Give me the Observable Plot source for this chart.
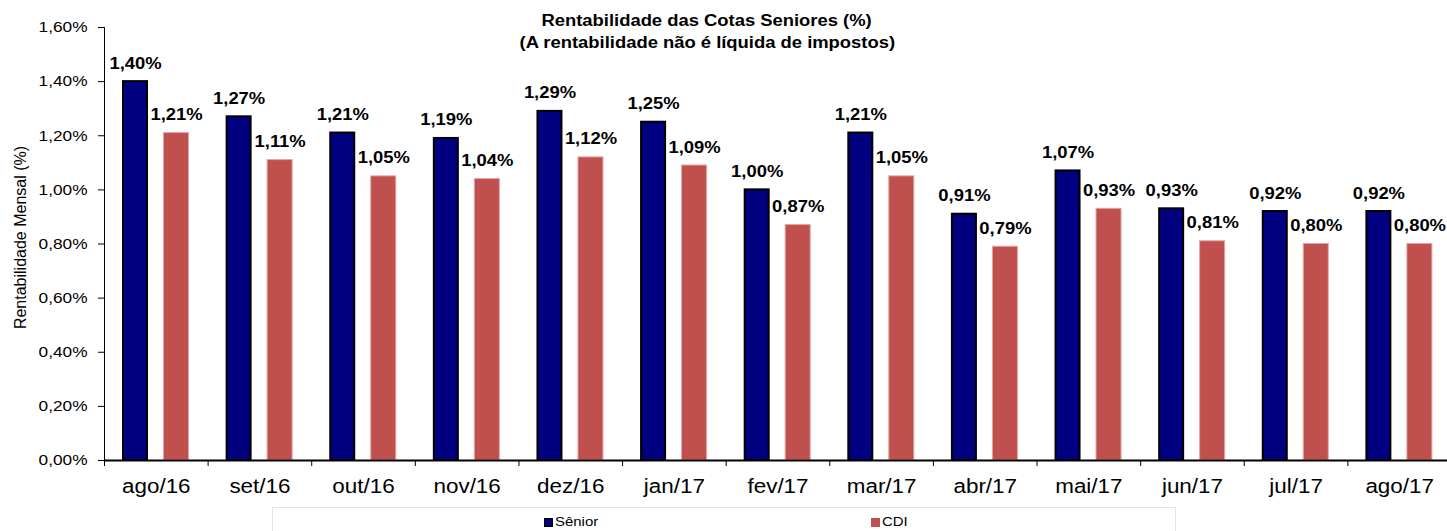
<!DOCTYPE html>
<html>
<head>
<meta charset="utf-8">
<script src="https://cdn.jsdelivr.net/npm/d3@7"></script>
<script src="https://cdn.jsdelivr.net/npm/@observablehq/plot@0.6"></script>
<style>
  html, body { margin: 0; padding: 0; background: #fff; overflow: hidden; }
  #wrap { position: relative; width: 1447px; height: 531px; overflow: hidden; font-family: "Liberation Sans", Arial, sans-serif; color: #000; }
  #chart { position: absolute; left: 0; top: 0; width: 1451px; }
  #chart svg { max-width: none !important; }
  #title { position: absolute; left: 0; width: 1414px; top: 10px; text-align: center; font-weight: bold; font-size: 16px; line-height: 21.6px; }
  #title span { display: inline-block; transform: scaleX(1.15); transform-origin: center; white-space: nowrap; }
  #legend { position: absolute; left: 272px; top: 507px; width: 904px; height: 40px; box-sizing: border-box; border: 1px solid #e3e3e3; background: #fff; }
  .sw { position: absolute; width: 9px; height: 9px; box-sizing: border-box; }
  .lt { position: absolute; font-size: 13px; line-height: 13px; white-space: nowrap; transform: scaleX(1.15); transform-origin: left center; }
</style>
</head>
<body>
<div id="wrap">
  <div id="chart"></div>
  <div id="title"></div>
  <div id="legend"></div>
</div>
<script>
// ---- data ----
const months = ["ago/16","set/16","out/16","nov/16","dez/16","jan/17","fev/17","mar/17","abr/17","mai/17","jun/17","jul/17","ago/17"];
const senior = [1.40,1.27,1.21,1.19,1.29,1.25,1.00,1.21,0.91,1.07,0.93,0.92,0.92];
const cdi    = [1.21,1.11,1.05,1.04,1.12,1.09,0.87,1.05,0.79,0.93,0.81,0.80,0.80];
const yTicks = [0,0.2,0.4,0.6,0.8,1.0,1.2,1.4,1.6];
const seriesNames = ["Sênior","CDI"];
const seriesColors = ["#000080","#C0504D"];
const titleLines = ["Rentabilidade das Cotas Seniores (%)","(A rentabilidade não é líquida de impostos)"];
const yLabel = "Rentabilidade Mensal (%)";

const fmt = v => v.toFixed(2).replace(".", ",") + "%";
const seniorData = months.map((m, i) => ({month: m, value: senior[i]}));
const cdiData = months.map((m, i) => ({month: m, value: cdi[i]}));

const W = 1451, H = 505, ML = 104;
const step = (W - ML) / months.length;

const plot = Plot.plot({
  width: W,
  height: H,
  marginLeft: ML,
  marginRight: 0,
  marginTop: 27,
  marginBottom: 45,
  style: {fontFamily: "'Liberation Sans', Arial, sans-serif", color: "#000", background: "#fff", overflow: "visible", maxWidth: "none"},
  x: {domain: months, padding: 0, round: false, axis: null},
  y: {domain: [0, 1.6], axis: null},
  marks: [
    Plot.barY(seniorData, {x: "month", y: "value", fill: seriesColors[0], stroke: "#000", strokeWidth: 2, insetLeft: 19, insetRight: step - 43}),
    Plot.barY(cdiData, {x: "month", y: "value", fill: seriesColors[1], stroke: "#E4A3A1", strokeWidth: 1, insetLeft: 59.5, insetRight: step - 84.5}),
    Plot.text(seniorData, {x: "month", y: "value", text: d => fmt(d.value), dx: 31 - step / 2, dy: -13, lineAnchor: "bottom", fontWeight: "bold", fontSize: 16, fill: "#000"}),
    Plot.text(cdiData, {x: "month", y: "value", text: d => fmt(d.value), dx: 72 - step / 2, dy: -13, lineAnchor: "bottom", fontWeight: "bold", fontSize: 16, fill: "#000"}),
    Plot.axisY(yTicks, {tickFormat: fmt, tickSize: 6, tickPadding: 11, fontSize: 15, label: null, stroke: "#000"}),
    Plot.axisX({tickSize: 0, tickPadding: 19, fontSize: 19.5, label: null}),
    Plot.ruleX(months, {x: d => d, dx: -step / 2, dy: 6, insetTop: 427, stroke: "#000", strokeWidth: 1}),
    Plot.ruleX([months[0]], {x: d => d, dx: -step / 2, stroke: "#000", strokeWidth: 1}),
    Plot.ruleY([0], {stroke: "#000", strokeWidth: 2}),
    Plot.text([yLabel], {frameAnchor: "left", textAnchor: "middle", rotate: -90, dx: -84, dy: -6.5, fontSize: 16, fill: "#000", className: "ylab"})
  ]
});
document.getElementById("chart").appendChild(plot);

// Horizontal stretch of the typeface to match the reference's wide rendering
plot.querySelectorAll("text").forEach(t => {
  if (t.closest(".ylab")) return;
  const tr = (t.getAttribute("transform") || "") + (t.parentNode.getAttribute("transform") || "");
  if (/rotate/.test(tr)) return;
  const len = t.getComputedTextLength();
  if (len > 0) {
    t.setAttribute("textLength", (len * 1.15).toFixed(2));
    t.setAttribute("lengthAdjust", "spacingAndGlyphs");
  }
});

// title
const titleEl = document.getElementById("title");
titleLines.forEach((line, i) => {
  const s = document.createElement("span");
  s.textContent = line;
  titleEl.appendChild(s);
  if (i < titleLines.length - 1) titleEl.appendChild(document.createElement("br"));
});

// legend
const legend = document.getElementById("legend");
const swLeft = [271, 598];
seriesNames.forEach((name, i) => {
  const sw = document.createElement("div");
  sw.className = "sw";
  sw.style.left = swLeft[i] + "px";
  sw.style.top = "10px";
  sw.style.background = seriesColors[i];
  if (i === 0) sw.style.border = "1px solid #000";
  legend.appendChild(sw);
  const lt = document.createElement("div");
  lt.className = "lt";
  lt.style.left = (swLeft[i] + 11) + "px";
  lt.style.top = "7px";
  lt.textContent = name;
  legend.appendChild(lt);
});
</script>
</body>
</html>
